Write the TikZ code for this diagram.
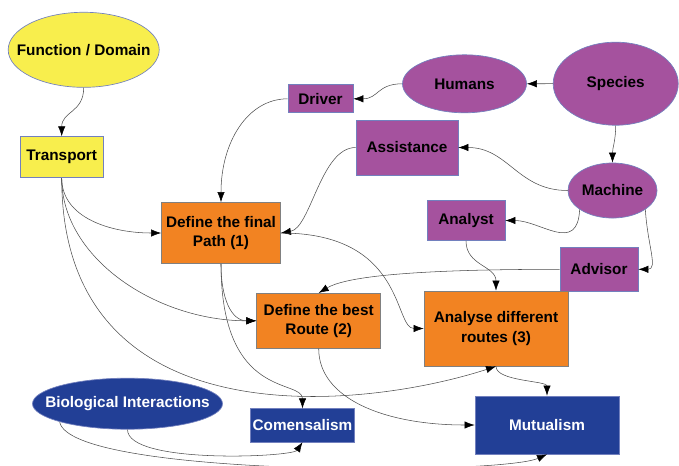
\documentclass[tikz,border=0pt]{standalone}
\usepackage{fontspec}
\setmainfont{Liberation Sans}
\usetikzlibrary{arrows.meta,shapes.geometric}
\definecolor{yel}{RGB}{248,238,77}
\definecolor{purp}{RGB}{165,82,158}
\definecolor{oran}{RGB}{242,131,34}
\definecolor{dblue}{RGB}{34,63,150}
\definecolor{bordblue}{RGB}{114,128,190}
\begin{document}
\begin{tikzpicture}[x=0.75pt,y=0.75pt,yscale=-1,xscale=1,
  every node/.style={font=\bfseries\fontsize{11.5}{14.3}\selectfont},
  box/.style={draw=bordblue, line width=0.5pt, inner sep=1.5pt, align=center},
  oval/.style={ellipse, draw=bordblue, line width=0.5pt, inner sep=0pt},
  link/.style={draw=black!70, line width=0.4pt, -{Latex[length=7.5pt,width=5.5pt,color=black]}}]
\useasboundingbox (0,0) rectangle (679,465);

%Shape: Ellipse
\node [oval, fill=yel, minimum width=113.3pt, minimum height=56.3pt, label=center:{Function / Domain}] (func) at (83.7,49.8) {};
\node [oval, fill=purp, minimum width=93pt, minimum height=43.5pt] (humans) at (464.5,83.8) {Humans};
\node [oval, fill=purp, minimum width=93.8pt, minimum height=62.3pt] (species) at (615.7,83.7) {Species};
\node [oval, fill=purp, minimum width=66.8pt, minimum height=41.3pt, label=center:{Machine}] (machine) at (612.5,190.5) {};
\node [oval, fill=dblue, minimum width=142.5pt, minimum height=38.3pt, label={[text=white]center:Biological Interactions}] (biol) at (127.5,403.7) {};

%Shape: Rectangle
\node [box, fill=yel, minimum width=62.3pt, minimum height=30.8pt] (transp) at (61.7,157.2) {Transport};
\node [box, fill=purp, minimum width=48.8pt, minimum height=21pt] (driver) at (320.5,98.8) {Driver};
\node [box, fill=purp, minimum width=76.5pt, minimum height=41.3pt] (assist) at (407,147.5) {Assistance};
\node [box, fill=purp, minimum width=58.5pt, minimum height=30pt] (analyst) at (466,220.5) {Analyst};
\node [box, fill=purp, minimum width=58.5pt, minimum height=32.3pt] (advisor) at (599,269.3) {Advisor};
\node [box, draw=gray, fill=oran, minimum width=89.3pt, minimum height=45.8pt] (deffin) at (221,233) {Define the final\\Path (1)};
\node [box, draw=gray, fill=oran, minimum width=93pt, minimum height=41.3pt] (defbest) at (318.7,320.8) {Define the best\\Route (2)};
\node [box, draw=gray, fill=oran, minimum width=108pt, minimum height=56.3pt] (analyse) at (496,328.5) {Analyse different\\routes (3)};
\node [box, fill=dblue, text=white, minimum width=77.3pt, minimum height=24.8pt] (comens) at (302.5,425.3) {Comensalism};
\node [box, fill=dblue, text=white, minimum width=108pt, minimum height=43.5pt] (mutu) at (547,425) {Mutualism};

%Curve Lines
\draw [link] (func.south) .. controls +(0,25) and +(0,-25) .. (transp.north);
\draw [link] (species.west) -- (humans.east);
\draw [link] (humans.west) .. controls +(-25,0) and +(25,0) .. (driver.east);
\draw [link] (species.south) .. controls +(0,15) and +(0,-15) .. (machine.north);
\draw [link] (machine.west) .. controls +(-50,0) and +(50,0) .. (assist.east);
\draw [link] (machine.210) .. controls +(-2,45) and +(35,0) .. (analyst.east);
\draw [link] (machine.330) .. controls +(2,35) and +(20,0) .. (advisor.east);
\draw [link] (driver.west) .. controls +(-40,0) and +(0,-60) .. (deffin.north);
\draw [link] (assist.west) .. controls +(-35,0) and +(30,-5) .. (deffin.east);
\draw [link] (deffin.east) .. controls +(125,0) and +(-30,0) .. (analyse.west);
\draw [link] (transp.south) .. controls +(0,40) and +(-50,0) .. (deffin.west);
\draw [link] (transp.south) .. controls +(0,80) and +(-100,0) .. (defbest.west);
\draw [link] (transp.south) .. controls +(0,263) and +(-136,44) .. (analyse.south);
\draw [link] (deffin.south) .. controls +(0,35) and +(-25,0) .. (defbest.west);
\draw [link] (deffin.south) .. controls +(0,137) and +(0,-30) .. (comens.north);
\draw [link] (defbest.south) .. controls +(0,50) and +(-90,0) .. (mutu.west);
\draw [link] (advisor.west) .. controls +(-160,0) and +(25,-15) .. (defbest.north);
\draw [link] (analyst.south) .. controls +(0,25) and +(0,-25) .. (analyse.north);
\draw [link] (analyse.south) .. controls +(0,15) and +(0,-15) .. (mutu.north);
\draw [link] (biol.south) .. controls +(0,35) and +(-10,15) .. (comens.south);
\draw [link] (biol.195) .. controls +(10,55) and +(-47,21) .. (mutu.south);

\end{tikzpicture}
\end{document}
